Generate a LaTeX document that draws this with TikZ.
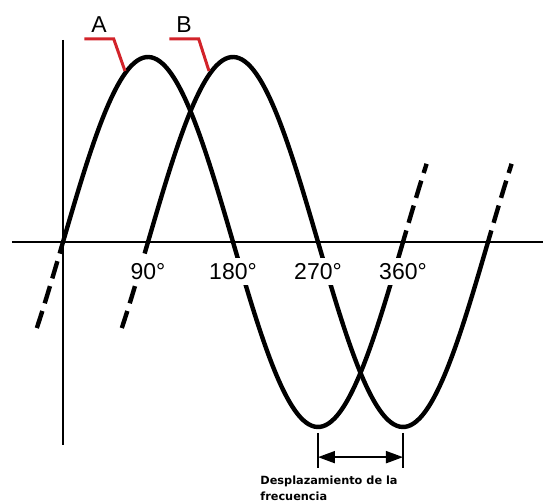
\documentclass[tikz,border=0pt]{standalone}
\usepackage{fontspec}
\setmainfont{Liberation Sans}
\newfontfamily\notefont{DejaVu Sans}
\usepackage{tikz}
\usetikzlibrary{arrows.meta,positioning,calc}
\definecolor{leadred}{HTML}{D2232A}
\tikzset{
  wave/.style={line width=2.2pt, draw=black},
  wavedash/.style={wave, dash pattern=on 9pt off 4pt, dash phase=3pt},
  axisline/.style={line width=0.85pt, draw=black},
  leader/.style={line width=1.5pt, draw=leadred},
  degree/.style={fill=white, inner sep=2.5pt, font=\fontsize{11.5}{13}\selectfont},
  curvelabel/.style={inner ysep=2.75pt, inner xsep=3.3pt, font=\fontsize{11.5}{13}\selectfont},
  shiftmark/.style={line width=1pt, draw=black},
  shiftarrow/.style={{Triangle[length=8.5pt,width=6pt]}-{Triangle[length=8.5pt,width=6pt]}, line width=1pt},
  smallnote/.style={font=\notefont\bfseries\fontsize{5.65}{8}\selectfont, align=left, inner sep=0pt}
}

\begin{document}
\begin{tikzpicture}[x=0.5pt, y=-0.5pt]
    \useasboundingbox (0,0) rectangle (543,502);

    % axes
    \coordinate (xl) at (12,242);
    \coordinate (xr) at (543,242);
    \coordinate (yt) at (63,40);
    \coordinate (yb) at (63,445);
    \draw[axisline] (xl) -- (xr);
    \draw[axisline] (yt) -- (yb);

    % wave A (shift 0) and wave B (shift 85)
    \foreach \s in {0,85}{
        \draw[wave] plot[domain=0:360, samples=120, smooth] ({63+\s+\x/360*340}, {242-185*sin(\x)});
        \draw[wavedash] plot[domain=0:-29, samples=12, smooth] ({63+\s+\x/360*340}, {242-185*sin(\x)});
        \draw[wavedash] plot[domain=360:385, samples=12, smooth] ({63+\s+\x/360*340}, {242-185*sin(\x)});
    }

    % degree marks
    \node[degree] (d90) at (148,271.5) {90°};
    \node[degree] (d180) at (233,271.5) {180°};
    \node[degree] (d270) at (318,271.5) {270°};
    \node[degree] (d360) at (403,271.5) {360°};

    % curve names
    \node[curvelabel] (A) at (99,25) {A};
    \node[curvelabel] (B) at (184,25) {B};
    \coordinate (onA) at (125,71);
    \coordinate (onB) at (209,71);
    \draw[leader] (A.south west) -- (A.south east) -- (onA);
    \draw[leader] (B.south west) -- (B.south east) -- (onB);

    % shift between troughs
    \coordinate (trA) at (318,433);
    \coordinate (trAb) at (318,468);
    \coordinate (trB) at (403,433);
    \coordinate (trBb) at (403,468);
    \draw[shiftmark] (trA) -- (trAb);
    \draw[shiftmark] (trB) -- (trBb);
    \draw[shiftarrow] ($(trA)!0.69!(trAb)$) -- ($(trB)!0.69!(trBb)$);
    \node[smallnote, anchor=north west] (note) at (260,476) {Desplazamiento de la\\frecuencia};
\end{tikzpicture}
\end{document}
